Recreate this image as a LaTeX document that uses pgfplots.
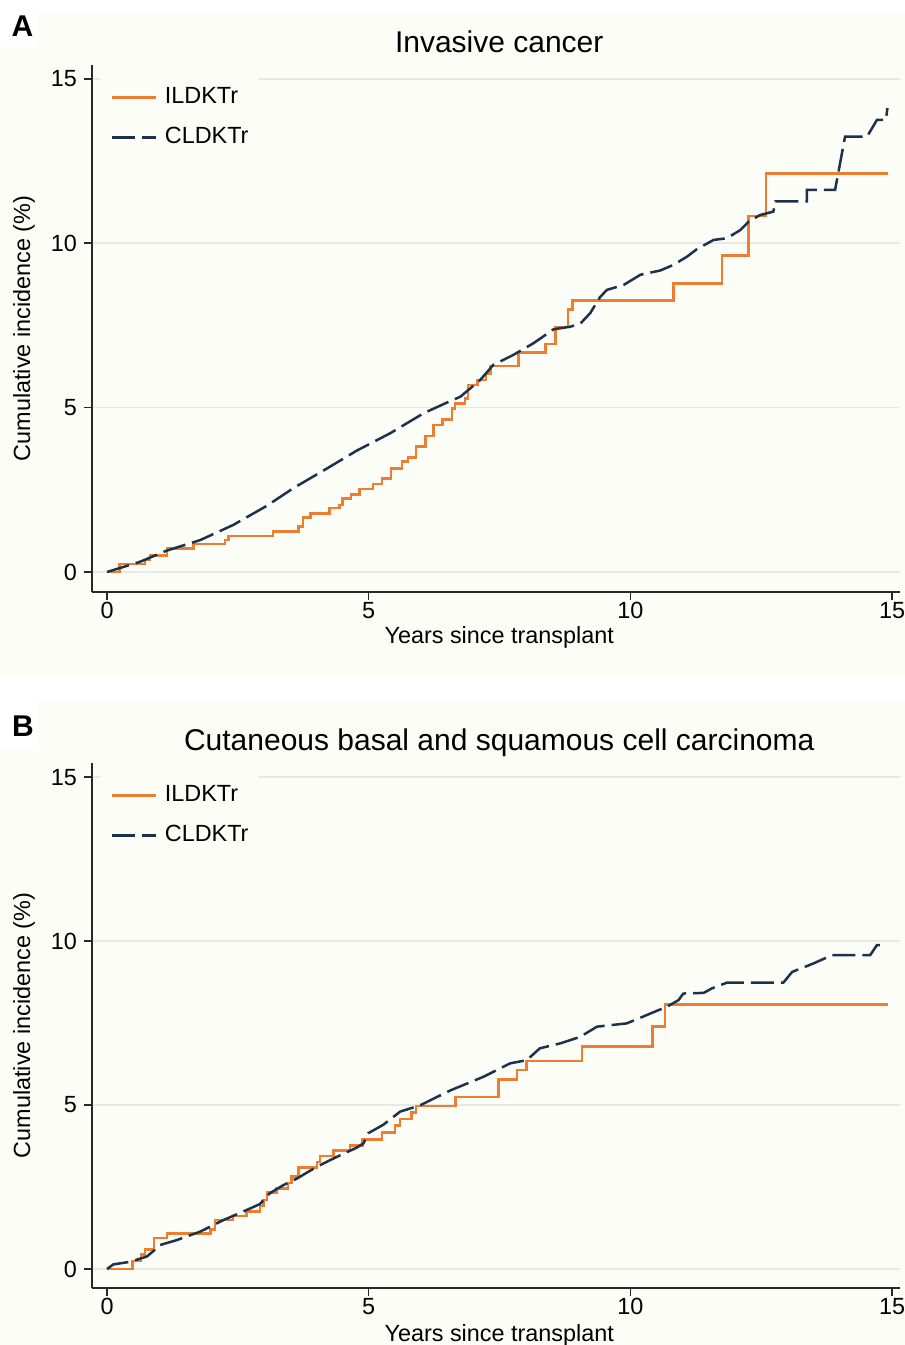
\documentclass[border=0pt]{standalone}
\usepackage{fontspec}
\setmainfont{Liberation Sans}
\usepackage{pgfplots}
\pgfplotsset{compat=1.18}
\definecolor{creambg}{RGB}{253,253,247}
\definecolor{ildk}{RGB}{237,125,49}
\definecolor{cldk}{RGB}{28,50,75}
\definecolor{gridc}{RGB}{232,232,229}
\definecolor{axc}{RGB}{40,40,40}
\newcommand\lblfont{\fontsize{11.7}{14}\selectfont}
\pgfplotsset{
  legend image code/.code={\draw[#1] (0pt,0pt) -- (22pt,0pt);},
  kmaxis/.style={
    scale only axis, width=404pt,
    axis x line*=bottom, axis y line*=left,
    axis line style={draw=axc, line width=0.75pt},
    xmin=-0.287, xmax=15.15,
    xtick={0,5,10,15}, ytick={0,5,10,15},
    tick align=outside, major tick length=4pt,
    tick style={draw=axc, line width=0.75pt},
    ymajorgrids, grid style={draw=gridc, line width=0.8pt},
    /pgf/number format/assume math mode=true,
    ticklabel style={font=\lblfont},
    xticklabel style={yshift=2.5pt},
    label style={font=\lblfont},
    xlabel={Years since transplant},
    ylabel={Cumulative incidence (\%)},
    ylabel style={at={(axis description cs:-0.0842,0.5)}, anchor=center},
    legend cell align=left,
    legend style={draw=none, fill=creambg, anchor=north west, inner xsep=5pt, inner ysep=7pt, row sep=9pt, column sep=4pt, font=\lblfont, nodes={inner sep=0pt, text height=8.5pt, text depth=2.5pt}},
  },
  ildkline/.style={const plot, ildk, line width=1.25pt},
  cldkline/.style={cldk, line width=1.25pt, dash pattern=on 11.5pt off 3.5pt},
}
\begin{document}
\begin{tikzpicture}[x=0.5pt,y=0.5pt]
\fill[white] (0,0) rectangle (905,1345);
\fill[creambg] (0,668) rectangle (905,1332);
\fill[white] (0,1298) rectangle (37,1345);
\fill[creambg] (0,0) rectangle (905,645);
\fill[white] (0,597) rectangle (37,645);
\node[font=\bfseries\fontsize{15}{18}\selectfont] at (22.5,1319) {A};
\node[font=\bfseries\fontsize{15}{18}\selectfont] at (23,618.5) {B};

\begin{axis}[kmaxis, at={(46pt,376.5pt)}, anchor=south west, height=263.5pt,
  ymin=-0.608, ymax=15.42, title={Invasive cancer},
  title style={at={(axis description cs:0.504,1.021)}, anchor=center, yshift=0pt, font=\fontsize{15}{18}\selectfont},
  xlabel style={at={(axis description cs:0.504,-0.0854)}, anchor=center},
  legend style={at={(axis cs:-0.134,15.21)}}]
\addplot[ildkline] coordinates {(0,0)(0.24,0.25)(0.73,0.37)(0.82,0.50)(1.15,0.72)(1.65,0.85)(2.25,0.97)(2.32,1.10)(3.17,1.23)(3.66,1.38)(3.74,1.66)(3.89,1.78)(4.25,1.94)(4.44,2.04)(4.50,2.24)(4.66,2.36)(4.82,2.52)(5.08,2.68)(5.25,2.85)(5.43,3.15)(5.64,3.36)(5.75,3.49)(5.90,3.81)(6.08,4.14)(6.24,4.47)(6.41,4.64)(6.59,4.98)(6.65,5.13)(6.84,5.28)(6.90,5.69)(7.08,5.84)(7.24,6.04)(7.33,6.27)(7.86,6.67)(8.38,6.93)(8.57,7.45)(8.81,7.98)(8.89,8.26)(10.82,8.78)(11.75,9.63)(12.26,10.83)(12.59,12.12)(14.92,12.12)};
\addlegendentry{ILDKTr}
\addplot[cldkline] coordinates {(0,0)(0.63,0.31)(1.14,0.65)(1.78,0.97)(2.41,1.43)(3.05,2.01)(3.56,2.55)(4.13,3.08)(4.77,3.69)(5.41,4.22)(6.05,4.83)(6.49,5.15)(6.75,5.33)(7.13,5.84)(7.38,6.30)(7.76,6.60)(8.15,6.96)(8.53,7.38)(8.85,7.46)(9.04,7.55)(9.23,7.87)(9.42,8.36)(9.55,8.58)(9.87,8.73)(10.19,9.04)(10.57,9.17)(10.82,9.34)(11.08,9.59)(11.27,9.82)(11.59,10.10)(11.84,10.15)(12.10,10.40)(12.26,10.66)(12.48,10.86)(12.73,10.96)(12.77,11.27)(13.37,11.27)(13.37,11.62)(13.91,11.62)(14.10,13.24)(14.52,13.24)(14.71,13.75)(14.88,13.75)(14.91,14.11)};
\addlegendentry{CLDKTr}
\end{axis}

\begin{axis}[kmaxis, at={(46pt,28.5pt)}, anchor=south west, height=262.5pt,
  ymin=-0.579, ymax=15.43, title={Cutaneous basal and squamous cell carcinoma},
  title style={at={(axis description cs:0.504,1.015)}, anchor=center, yshift=0pt, font=\fontsize{15}{18}\selectfont},
  xlabel style={at={(axis description cs:0.504,-0.0911)}, anchor=center},
  legend style={at={(axis cs:-0.134,15.21)}}]
\addplot[ildkline] coordinates {(0,0)(0.49,0.24)(0.65,0.45)(0.73,0.60)(0.90,0.95)(1.15,1.09)(1.98,1.21)(2.06,1.49)(2.41,1.62)(2.66,1.75)(2.92,1.92)(2.99,2.10)(3.06,2.33)(3.24,2.46)(3.46,2.63)(3.52,2.82)(3.66,3.10)(4.01,3.27)(4.07,3.44)(4.33,3.61)(4.64,3.77)(4.88,3.95)(5.25,4.17)(5.50,4.37)(5.60,4.58)(5.82,4.78)(5.90,4.97)(6.66,5.24)(7.48,5.78)(7.83,6.07)(8.01,6.35)(9.07,6.78)(10.42,7.39)(10.66,8.07)(14.92,8.07)};
\addlegendentry{ILDKTr}
\addplot[cldkline] coordinates {(0,0)(0.12,0.14)(0.44,0.22)(0.76,0.38)(0.95,0.63)(1.01,0.73)(1.33,0.88)(1.78,1.14)(2.22,1.49)(2.67,1.80)(2.92,1.98)(3.11,2.31)(3.37,2.56)(3.63,2.76)(4.01,3.12)(4.39,3.42)(4.77,3.70)(4.90,3.83)(4.99,4.14)(5.28,4.40)(5.60,4.80)(5.98,4.99)(6.55,5.44)(7.19,5.86)(7.70,6.27)(8.02,6.37)(8.27,6.73)(8.66,6.88)(9.04,7.08)(9.36,7.39)(9.93,7.49)(10.44,7.83)(10.70,8.00)(10.92,8.20)(11.01,8.40)(11.40,8.42)(11.56,8.56)(11.84,8.73)(12.92,8.73)(13.09,9.06)(13.50,9.32)(13.85,9.57)(14.58,9.57)(14.71,9.88)(14.90,9.88)};
\addlegendentry{CLDKTr}
\end{axis}
\pgfresetboundingbox
\path[use as bounding box] (0,0) rectangle (905,1345);
\end{tikzpicture}
\end{document}
